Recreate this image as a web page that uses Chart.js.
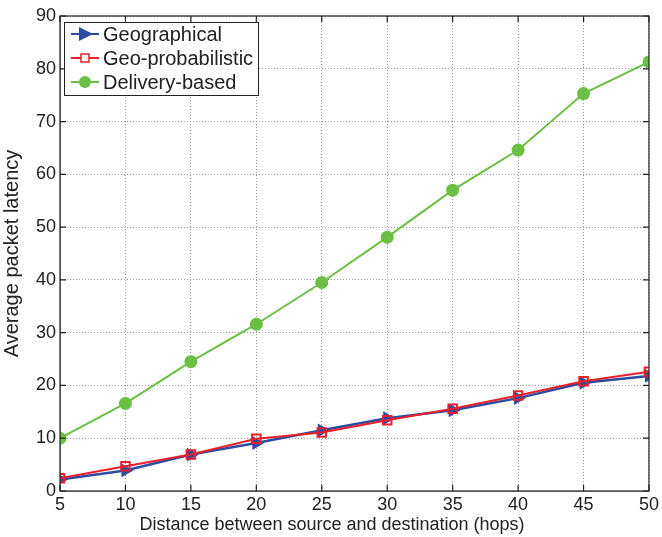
<!DOCTYPE html>
<html><head><meta charset="utf-8">
<script src="https://cdn.jsdelivr.net/npm/chart.js@4"></script>
<style>html,body{margin:0;padding:0;background:#fff}#wrap{width:662px;height:537px}</style>
</head><body><div id="wrap"><canvas id="c" width="662" height="537"></canvas></div>
<script>
const hops = [5, 10, 15, 20, 25, 30, 35, 40, 45, 50];
const geographical = [2.2, 3.9, 6.9, 9.1, 11.5, 13.8, 15.3, 17.6, 20.5, 21.8];
const geoProbabilistic = [2.4, 4.7, 6.9, 9.9, 11.1, 13.4, 15.6, 18.1, 20.8, 22.6];
const deliveryBased = [10.0, 16.6, 24.5, 31.6, 39.5, 48.1, 57.0, 64.6, 75.3, 81.3];
const seriesNames = ["Geographical", "Geo-probabilistic", "Delivery-based"];
const xTicks = [5, 10, 15, 20, 25, 30, 35, 40, 45, 50];
const yTicks = [0, 10, 20, 30, 40, 50, 60, 70, 80, 90];
const xTitle = "Distance between source and destination (hops)";
const yTitle = "Average packet latency";

const BLUE = "#2b4c9f", RED = "#e8202c", GREEN = "#6cbf45";
const FONT = "Liberation Sans, Arial, sans-serif";

function pts(arr){ return hops.map((h,i)=>({x:h,y:arr[i]})); }

const frame = {
  id: "frame",
  afterDraw(chart){
    const {ctx, chartArea:a, scales:{x, y}} = chart;
    ctx.save();
    ctx.strokeStyle = "#222"; ctx.lineWidth = 1.2;
    ctx.strokeRect(a.left, a.top, a.right - a.left, a.bottom - a.top);
    // inward ticks
    ctx.beginPath();
    xTicks.forEach(v=>{ const px = x.getPixelForValue(v);
      ctx.moveTo(px, a.bottom); ctx.lineTo(px, a.bottom - 6);
      ctx.moveTo(px, a.top); ctx.lineTo(px, a.top + 6); });
    yTicks.forEach(v=>{ const py = y.getPixelForValue(v);
      ctx.moveTo(a.left, py); ctx.lineTo(a.left + 6, py);
      ctx.moveTo(a.right, py); ctx.lineTo(a.right - 6, py); });
    ctx.stroke();
    // x axis title (centred on the figure)
    ctx.fillStyle = "#222"; ctx.font = "18px " + FONT;
    ctx.textAlign = "center"; ctx.textBaseline = "middle";
    ctx.fillText(xTitle, chart.width / 2 + 1, a.bottom + 34);
    ctx.textAlign = "left";
    // legend
    const L = a.left + 4, T = a.top + 6, W = 194, H = 73;
    ctx.fillStyle = "#fff"; ctx.fillRect(L, T, W, H);
    ctx.strokeStyle = "#222"; ctx.lineWidth = 1;
    ctx.strokeRect(L + 0.5, T + 0.5, W, H);
    const colors = [BLUE, RED, GREEN];
    ctx.font = "20px " + FONT; ctx.textBaseline = "middle";
    seriesNames.forEach((n, i)=>{
      const cy = T + 12 + i * 24;
      ctx.strokeStyle = colors[i]; ctx.lineWidth = 2;
      ctx.beginPath(); ctx.moveTo(L + 7, cy); ctx.lineTo(L + 35, cy); ctx.stroke();
      const cx = L + 21;
      if (i === 0){ ctx.fillStyle = BLUE; ctx.beginPath();
        ctx.moveTo(cx - 6, cy - 7); ctx.lineTo(cx + 8, cy); ctx.lineTo(cx - 6, cy + 7); ctx.closePath(); ctx.fill(); }
      else if (i === 1){ ctx.fillStyle = "#fff"; ctx.fillRect(cx - 4, cy - 4, 8, 8);
        ctx.strokeStyle = RED; ctx.lineWidth = 1.5; ctx.strokeRect(cx - 4, cy - 4, 8, 8); }
      else { ctx.fillStyle = GREEN; ctx.beginPath(); ctx.arc(cx, cy, 6, 0, Math.PI*2); ctx.fill(); }
      ctx.fillStyle = "#222"; ctx.fillText(n, L + 39, cy + 1);
    });
    ctx.restore();
  }
};

new Chart(document.getElementById("c"), {
  type: "line",
  data: { datasets: [
    { label: seriesNames[0], data: pts(geographical), borderColor: BLUE, backgroundColor: BLUE,
      borderWidth: 2.5, pointStyle: "triangle", rotation: 90, pointRadius: 8, pointBorderWidth: 0, order: 1 },
    { label: seriesNames[1], data: pts(geoProbabilistic), borderColor: RED, backgroundColor: "rgba(255,255,255,0)",
      borderWidth: 2, pointStyle: "rect", pointRadius: 6, pointBorderWidth: 2, order: 0 },
    { label: seriesNames[2], data: pts(deliveryBased), borderColor: GREEN, backgroundColor: GREEN,
      borderWidth: 2, pointStyle: "circle", pointRadius: 6.5, pointBorderWidth: 0, order: 2 }
  ]},
  options: {
    responsive: false, animation: false,
    layout: { padding: { top: 16, right: 11, left: 0, bottom: 0 } },
    plugins: { legend: { display: false }, tooltip: { enabled: false } },
    scales: {
      x: { type: "linear", min: 5, max: 50,
        afterBuildTicks: s => { s.ticks = xTicks.map(v=>({value:v})); },
        afterFit: s => { s.height = 46; },
        grid: { color: "#999", lineWidth: 1, drawTicks: false },
        border: { display: true, color: "#999", dash: [1, 2] },
        ticks: { color: "#222", font: { family: FONT, size: 18 }, padding: 3, maxRotation: 0 },
        title: { display: false } },
      y: { type: "linear", min: 0, max: 90,
        afterBuildTicks: s => { s.ticks = yTicks.map(v=>({value:v})); },
        afterFit: s => { s.width = 60; },
        grid: { color: "#999", lineWidth: 1, drawTicks: false },
        border: { display: true, color: "#999", dash: [1, 2] },
        ticks: { color: "#222", font: { family: FONT, size: 18 }, padding: 4 },
        title: { display: true, text: yTitle, color: "#222",
          font: { family: FONT, size: 20 }, padding: { top: 0, bottom: 1 } } }
    }
  },
  plugins: [frame]
});
</script></body></html>
